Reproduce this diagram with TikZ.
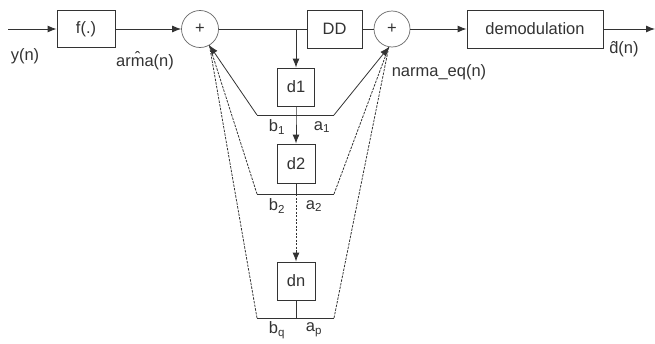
\documentclass[tikz,border=0pt]{standalone}
\usepackage{fontspec}
\setmainfont{Liberation Sans}
\usetikzlibrary{arrows.meta}
\begin{document}
\begin{tikzpicture}[x=1pt,y=-1pt,
  every node/.style={font=\fontsize{16.5}{19}\selectfont, text=black!80},
  line/.style={draw=black!80, line width=0.9pt},
  arr/.style={line, -{Latex[length=9pt,width=7pt]}},
  blk/.style={line, rectangle, inner sep=0pt},
  sumc/.style={draw=black!60, line width=0.7pt, circle, minimum size=37pt, inner sep=0pt},
  fb/.style={line, line width=0.8pt},
  fbd/.style={fb, dash pattern=on 2.5pt off 1.2pt},
  lbl/.style={inner sep=0pt}
]
\useasboundingbox (0,0) rectangle (655,343);

% blocks
\node[blk, minimum width=58pt, minimum height=37pt] (f) at (86,29) {f(.)};
\node[sumc] (s1) at (200,29) {+};
\node[blk, minimum width=55pt, minimum height=38pt] (dd) at (334.5,29) {DD};
\node[sumc, minimum size=36pt] (s2) at (392,29) {+};
\node[blk, minimum width=136pt, minimum height=38pt] (dem) at (535,29) {demodulation};
\node[blk, minimum width=37pt, minimum height=38pt] (d1) at (296,87) {d1};
\node[blk, minimum width=38pt, minimum height=39pt] (d2) at (296,163.5) {d2};
\node[blk, minimum width=38pt, minimum height=38pt] (dn) at (296,281) {dn};

% coordinates
\coordinate (in) at (8,29);
\coordinate (out) at (655,29);
\coordinate (j) at (296,29);
\coordinate (m1) at (296,115);
\coordinate (m2) at (296,194);
\coordinate (m3) at (296,318);
\coordinate (l1) at (257,115);
\coordinate (r1) at (334,115);
\coordinate (l2) at (257,194);
\coordinate (r2) at (334,194);
\coordinate (l3) at (257,318);
\coordinate (r3) at (334,318);
\coordinate (m2b) at (296,250);

% main path
\draw[arr] (in) -- (f.west);
\draw[arr] (f.east) -- (s1.west);
\draw[line] (s1.east) -- (dd.west);
\draw[arr] (j) -- (d1.north);
\draw[line] (dd.east) -- (s2.west);
\draw[arr] (s2.east) -- (dem.west);
\draw[arr] (dem.east) -- (out);

% chain
\draw[arr] (d1.south) -- (m1) -- (d2.north);
\draw[line] (d2.south) -- (m2);
\draw[line, dash pattern=on 2pt off 1.5pt] (m2) -- (m2b);
\draw[arr] (m2b) -- (dn.north);
\draw[line] (dn.south) -- (m3);
\draw[line] (l1) -- (r1);
\draw[line] (l2) -- (r2);
\draw[line] (l3) -- (r3);

% feedback lines
\draw[fbd] (l3) -- (s1.-60);
\draw[fbd] (l2) -- (s1.-60);
\draw[fb, -{Latex[length=9pt,width=7pt]}] (l1) -- (s1.-60);
\draw[fbd] (r3) -- (s2.-100);
\draw[fbd] (r2) -- (s2.-100);
\draw[fb, -{Latex[length=9pt,width=7pt]}] (r1) -- (s2.-100);

% labels
\node[lbl] (ly) at (25,56) {y(n)};
\node[lbl] (la) at (145,61) {ar\^{m}a(n)};
\node[lbl] (ln) at (439,72) {narma\_eq(n)};
\node[lbl] (ld) at (624,49) {\^{d}(n)};
\node[lbl] (b1) at (277,127) {b\textsubscript{1}};
\node[lbl] (a1) at (322,127) {a\textsubscript{1}};
\node[lbl] (b2) at (277,206) {b\textsubscript{2}};
\node[lbl] (a2) at (314,206) {a\textsubscript{2}};
\node[lbl] (bq) at (277,330) {b\textsubscript{q}};
\node[lbl] (ap) at (314,330) {a\textsubscript{p}};
\end{tikzpicture}
\end{document}
